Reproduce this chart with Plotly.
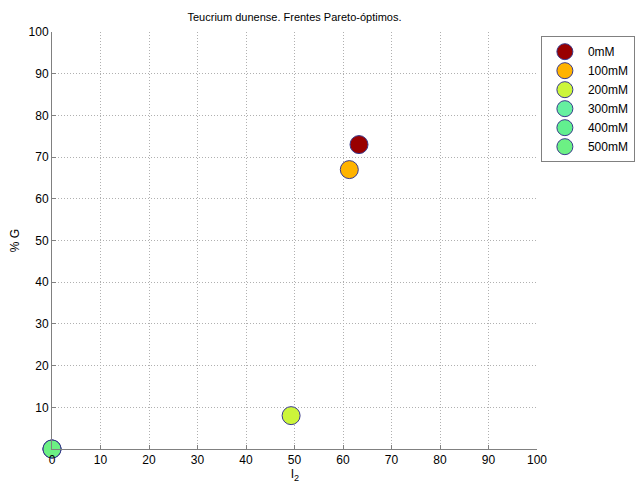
import plotly.graph_objects as go

labels = ["0mM", "100mM", "200mM", "300mM", "400mM", "500mM"]
l2_values = [63.3, 61.3, 49.3, 0.0, 0.0, 0.0]
g_values = [73.0, 67.0, 8.0, 0.0, 0.0, 0.0]
colors = ["#990000", "#FFB300", "#CCF53A", "#66F0A0", "#62F08F", "#6CF084"]
x_ticks = [0, 10, 20, 30, 40, 50, 60, 70, 80, 90, 100]
y_ticks = [10, 20, 30, 40, 50, 60, 70, 80, 90, 100]
x_title = "l<sub>2</sub>"
y_title = "% G"
title_text = "Teucrium dunense. Frentes Pareto-óptimos."

fig = go.Figure()
for lab, xv, yv, c in zip(labels, l2_values, g_values, colors):
    fig.add_trace(go.Scatter(
        x=[xv], y=[yv], mode="markers", name=lab,
        marker=dict(size=18, color=c, line=dict(color="#3A3A8C", width=1)),
        cliponaxis=False,
    ))

font = "Liberation Sans, Arial"
axis_common = dict(
    range=[0, 100],
    showgrid=True, gridcolor="#B0B0B0", griddash="1px,2px", gridwidth=1,
    showline=True, linecolor="#808080", linewidth=1,
    ticks="inside", ticklen=4, tickcolor="#808080",
    zeroline=False, tickfont=dict(family=font, size=12, color="#000"),
    mirror=False, automargin=False,
)
fig.update_xaxes(**axis_common, tickvals=x_ticks, ticktext=[str(t) for t in x_ticks])
fig.update_yaxes(**axis_common, tickvals=y_ticks, ticktext=[str(t) for t in y_ticks],
                 title=dict(text=y_title, standoff=6,
                            font=dict(family=font, size=12, color="#000")))

fig.add_annotation(text=x_title, x=0.5, xref="paper", y=-25/417, yref="paper",
                   xanchor="center", yanchor="middle", showarrow=False,
                   font=dict(family=font, size=13, color="#000"))

fig.update_layout(
    width=637, height=481,
    margin=dict(l=52, r=100, t=32, b=32, autoexpand=False),
    paper_bgcolor="white", plot_bgcolor="white",
    title=dict(text=title_text, x=0.5, xref="paper",
               y=1 - 17/481, yanchor="middle", yref="container",
               font=dict(family=font, size=11, color="#000")),
    legend=dict(x=1.008, y=0.99, xanchor="left", yanchor="top",
                bordercolor="#808080", borderwidth=1, bgcolor="white",
                font=dict(family=font, size=12, color="#000"),
                tracegroupgap=0, itemwidth=36),
    showlegend=True,
)

fig.write_html("out.html", config={"displayModeBar": False},
               post_script="document.body.style.margin='0';document.body.style.overflow='hidden';")
